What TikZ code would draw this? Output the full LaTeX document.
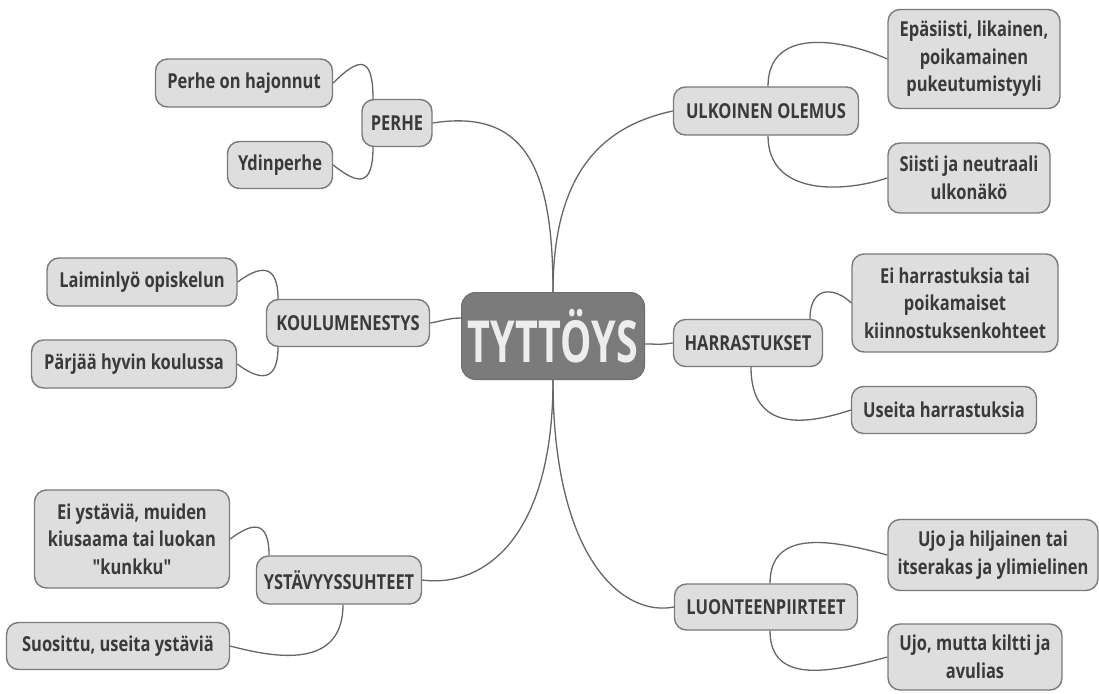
\documentclass[tikz,border=0pt]{standalone}
\usepackage{fontspec}
\setmainfont{Open Sans}[FakeStretch=0.8, Ligatures=TeXOff]
\newfontfamily\centralfont{Open Sans}[FakeStretch=0.68]
\definecolor{boxfill}{HTML}{DEDEDE}
\definecolor{boxline}{HTML}{7A7A7A}
\definecolor{txt}{HTML}{3A3A3A}
\definecolor{linkc}{HTML}{666666}
\definecolor{cfill}{HTML}{7B7B7B}
\definecolor{ctxt}{HTML}{EDEDED}
\tikzset{
  box/.style={draw=boxline, line width=1.4pt, fill=boxfill, rounded corners=12pt,
    inner sep=0pt, align=center, text=txt,
    font=\fontsize{20.6}{27.5}\selectfont\bfseries},
  central/.style={draw=cfill!90!black, line width=1pt, fill=cfill, rounded corners=14pt,
    inner sep=0pt, text=ctxt, font=\centralfont\fontsize{58}{60}\selectfont\bfseries},
  link/.style={draw=linkc, line width=1.3pt}
}
\begin{document}
\begin{tikzpicture}[x=1pt,y=-1pt]
\useasboundingbox[fill=white] (0,0) rectangle (1099,693);
% central
\node[central, minimum width=183pt, minimum height=87pt] (c) at (553,336) {TYTTÖYS};
% main branches
\node[box, minimum width=70pt, minimum height=47pt] (perhe) at (397,123) {PERHE};
\node[box, minimum width=185pt, minimum height=48pt] (ulk) at (766,111) {ULKOINEN OLEMUS};
\node[box, minimum width=163pt, minimum height=47pt] (k) at (348,323) {KOULUMENESTYS};
\node[box, minimum width=149pt, minimum height=47pt] (h) at (748,343) {HARRASTUKSET};
\node[box, minimum width=165pt, minimum height=48pt] (y) at (339,580) {YSTÄVYYSSUHTEET};
\node[box, minimum width=183pt, minimum height=46pt] (l) at (766,607) {LUONTEENPIIRTEET};
% leaves
\node[box, minimum width=177pt, minimum height=48pt] (p1) at (244,83) {Perhe on hajonnut};
\node[box, minimum width=105pt, minimum height=47pt] (p2) at (280,165) {Ydinperhe};
\node[box, minimum width=172pt, minimum height=99pt] (u1) at (974,59) {Epäsiisti, likainen,\\poikamainen\\pukeutumistyyli};
\node[box, minimum width=162pt, minimum height=70pt] (u2) at (969,178) {Siisti ja neutraali\\ulkonäkö};
\node[box, minimum width=190pt, minimum height=48pt] (k1) at (142,282) {Laiminlyö opiskelun};
\node[box, minimum width=205pt, minimum height=48pt] (k2) at (134,364) {Pärjää hyvin koulussa};
\node[box, minimum width=206pt, minimum height=98pt] (h1) at (955,303) {Ei harrastuksia tai\\poikamaiset\\kiinnostuksenkohteet};
\node[box, minimum width=185pt, minimum height=47pt] (h2) at (944,410) {Useita harrastuksia};
\node[box, minimum width=195pt, minimum height=98pt] (y1) at (132,539) {Ei ystäviä, muiden\\kiusaama tai luokan\\"kunkku"};
\node[box, minimum width=223pt, minimum height=47pt] (y2) at (118,646) {Suosittu, useita ystäviä};
\node[box, minimum width=210pt, minimum height=71pt] (l1) at (993,555) {Ujo ja hiljainen tai\\itserakas ja ylimielinen};
\node[box, minimum width=174pt, minimum height=66pt] (l2) at (975,657) {Ujo, mutta kiltti ja\\avulias};
% connectors from central
\draw[link] (perhe.east) .. controls +(95,-15) and +(0,-120) .. (c.north);
\draw[link] (c.north) .. controls +(0,-120) and +(-70,15) .. (ulk.west);
\draw[link] ([yshift=18pt]c.west) .. controls +(-12,0) and +(12,-2) .. (k.east);
\draw[link] ([yshift=-8pt]c.east) .. controls +(15,0) and +(-15,2) .. (h.west);
\draw[link] (c.south) .. controls +(0,160) and +(60,8) .. (y.east);
\draw[link] (c.south) .. controls +(0,180) and +(-50,10) .. (l.west);
% connectors to leaves
\draw[link] ([xshift=-24pt]perhe.north) .. controls +(0,-45) and +(25,-25) .. (p1.east);
\draw[link] ([xshift=-24pt]perhe.south) .. controls +(0,40) and +(25,20) .. (p2.east);
\draw[link] ([xshift=2pt]ulk.north) .. controls +(0,-60) and +(-45,-20) .. (u1.west);
\draw[link] ([xshift=2pt]ulk.south) .. controls +(0,60) and +(-45,15) .. (u2.west);
\draw[link] ([xshift=-70pt]k.north) .. controls +(0,-38) and +(20,-15) .. (k1.east);
\draw[link] ([xshift=-70pt]k.south) .. controls +(0,38) and +(20,15) .. (k2.east);
\draw[link] ([xshift=62pt]h.north) .. controls +(0,-35) and +(-15,-15) .. (h1.west);
\draw[link] ([xshift=3pt]h.south) .. controls +(0,65) and +(-45,15) .. (h2.west);
\draw[link] ([xshift=-70pt]y.north) .. controls +(0,-38) and +(20,-15) .. (y1.east);
\draw[link] ([xshift=4pt]y.south) .. controls +(0,65) and +(45,12) .. (y2.east);
\draw[link] ([xshift=4pt]l.north) .. controls +(0,-55) and +(-55,-15) .. (l1.west);
\draw[link] ([xshift=4pt]l.south) .. controls +(0,55) and +(-55,15) .. (l2.west);
\end{tikzpicture}
\end{document}
